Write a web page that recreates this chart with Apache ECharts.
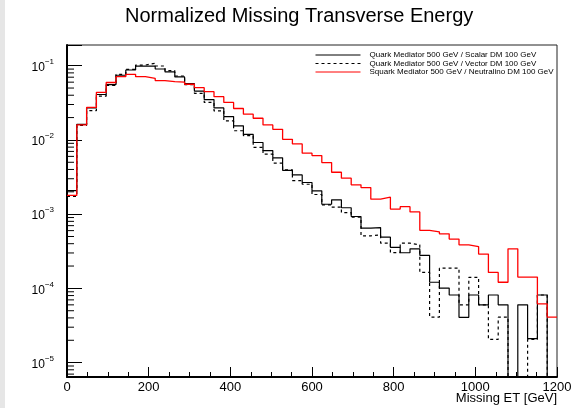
<!DOCTYPE html>
<html>
<head>
<meta charset="utf-8">
<script src="https://cdn.jsdelivr.net/npm/echarts@6/dist/echarts.min.js"></script>
<style>
html,body{margin:0;padding:0;background:#fff;}
#chart{width:571px;height:408px;}
</style>
</head>
<body>
<div id="chart"></div>
<script>
// ---- data ----
const binLowEdges = [0,24,48,72,96,120,144,168,192,216,240,264,288,312,336,360,384,408,432,456,
  480,504,528,552,576,600,624,648,672,696,720,744,768,792,816,840,864,888,912,936,
  960,984,1008,1032,1056,1080,1104,1128,1152,1176];
const binUpperEdge = 1200;

const seriesNames = [
  'Quark Mediator 500 GeV / Scalar DM 100 GeV',
  'Quark Mediator 500 GeV / Vector DM 100 GeV',
  'Squark Mediator 500 GeV / Neutralino DM 100 GeV'
];

const scalarDM = [2.07e-3, 0.0162, 0.0270, 0.0409, 0.0557, 0.0743, 0.0875, 0.0985, 0.0990, 0.0903,
  0.0823, 0.0705, 0.0573, 0.0454, 0.0350, 0.0270, 0.0206, 0.0155, 0.0119, 0.00923,
  0.00718, 0.00573, 0.00389, 0.00338, 0.00267, 0.00206, 0.00136, 0.00156, 0.00122, 0.00093,
  0.00065, 0.00066, 0.00049, 0.000357, 0.000302, 0.000341, 0.000279, 0.000121, 0.000101, 8.15e-5,
  4.08e-5, 8.15e-5, 6.0e-5, 8.15e-5, 6.0e-5, 0, 6.0e-5, 2.1e-5, 8.15e-5, 0];

const vectorDM = [1.74e-3, 0.0157, 0.0248, 0.0388, 0.0542, 0.0762, 0.0890, 0.1020, 0.1077, 0.0990,
  0.0860, 0.0726, 0.0555, 0.0425, 0.0320, 0.0246, 0.0180, 0.0133, 0.0114, 0.00793,
  0.00642, 0.00486, 0.00395, 0.00283, 0.00253, 0.00184, 0.00133, 0.00124, 0.00105, 0.00091,
  0.00051, 0.000526, 0.000407, 0.000304, 0.000407, 0.000386, 0.000164, 4.1e-5, 1.87e-4, 1.87e-4,
  6.0e-5, 1.41e-4, 6.0e-5, 2.05e-5, 4.1e-5, 0, 0, 2.05e-5, 8.15e-5, 0];

const neutralinoDM = [1.79e-3, 0.0159, 0.0274, 0.0438, 0.0594, 0.0711, 0.0766, 0.0711, 0.0677, 0.0630,
  0.0609, 0.0600, 0.0562, 0.0506, 0.0447, 0.0383, 0.0320, 0.0265, 0.0222, 0.0196,
  0.0159, 0.0139, 0.0102, 0.00883, 0.00662, 0.00615, 0.00495, 0.00367, 0.00305, 0.00248,
  0.00228, 0.00159, 0.00169, 0.00117, 0.00126, 0.00107, 0.000605, 0.000578, 0.000543, 0.000461,
  0.000386, 0.000366, 0.00029, 0.000164, 0.000121, 0.000341, 0.000142, 0.000142, 6.2e-5, 4.1e-5];

const yMinorTickValues = [7e-6, 8e-6, 9e-6,
  2e-5, 3e-5, 4e-5, 5e-5, 6e-5, 7e-5, 8e-5, 9e-5,
  2e-4, 3e-4, 4e-4, 5e-4, 6e-4, 7e-4, 8e-4, 9e-4,
  2e-3, 3e-3, 4e-3, 5e-3, 6e-3, 7e-3, 8e-3, 9e-3,
  2e-2, 3e-2, 4e-2, 5e-2, 6e-2, 7e-2, 8e-2, 9e-2];

const titleText = 'Normalized Missing Transverse Energy';
const xAxisTitle = 'Missing ET [GeV]';

// ---- build ----
const FONT = 'Liberation Sans, Arial, Helvetica, sans-serif';
const EMPTY_BIN_FLOOR = 1e-9; // empty bins fall below the axis, as in ROOT

function histPoints(vals) {
  const pts = binLowEdges.map((x, i) => [x, vals[i] > 0 ? vals[i] : EMPTY_BIN_FLOOR]);
  const last = vals[vals.length - 1];
  pts.push([binUpperEdge, last > 0 ? last : EMPTY_BIN_FLOOR]);
  return pts;
}

function histSeries(name, vals, color, width, type) {
  return {
    name: name,
    type: 'line',
    step: 'end',
    data: histPoints(vals),
    symbol: 'none',
    showSymbol: false,
    clip: true,
    silent: true,
    lineStyle: { color: color, width: width, type: type },
    itemStyle: { color: color },
    emphasis: { disabled: true }
  };
}

const chart = echarts.init(document.getElementById('chart'), null, { renderer: 'canvas' });

chart.setOption({
  animation: false,
  backgroundColor: '#ffffff',
  title: {
    text: titleText,
    left: 125,
    top: 6,
    padding: 0,
    textStyle: { fontSize: 20, fontWeight: 'normal', color: '#000', fontFamily: FONT }
  },
  graphic: [
    { type: 'rect', left: 0, top: 0, shape: { width: 5, height: 408 }, style: { fill: '#e6e6e6' }, silent: true },
    { type: 'text', right: 14, top: 392, silent: true,
      style: { text: xAxisTitle, fontSize: 13, fontFamily: FONT, fill: '#000' } }
  ],
  legend: {
    data: seriesNames,
    orient: 'vertical',
    left: 315,
    top: 51,
    padding: 0,
    itemWidth: 45,
    itemHeight: 7,
    itemGap: 0.5,
    selectedMode: false,
    itemStyle: { opacity: 0, borderWidth: 0 },
    lineStyle: { width: 1 },
    textStyle: { fontSize: 8, fontFamily: FONT, color: '#000', lineHeight: 7, padding: [0, 0, 0, 4] }
  },
  grid: {
    left: 67, right: 14, top: 45, bottom: 31,
    outerBoundsMode: 'none',
    show: true, borderColor: '#222', borderWidth: 1, backgroundColor: 'transparent',
    containLabel: false
  },
  xAxis: {
    type: 'value',
    min: 0, max: 1200, interval: 200,
    axisLine: { show: true, onZero: false, lineStyle: { color: '#000', width: 2 } },
    axisTick: { show: true, inside: true, length: 10, lineStyle: { color: '#000', width: 1 } },
    minorTick: { show: true, splitNumber: 4, length: 5, lineStyle: { color: '#000', width: 1 } },
    axisLabel: { fontSize: 13, fontFamily: FONT, color: '#000', margin: 4, formatter: function (v) { return String(v); } },
    splitLine: { show: false },
    minorSplitLine: { show: false }
  },
  yAxis: {
    type: 'log',
    logBase: 10,
    min: 6.4e-6, max: 0.19,
    axisLine: { show: true, onZero: false, lineStyle: { color: '#000', width: 2 } },
    axisTick: { show: true, inside: true, length: 15, lineStyle: { color: '#000', width: 1 } },
    axisLabel: {
      margin: 13,
      color: '#000',
      formatter: function (v) {
        const e = Math.log10(v);
        const r = Math.round(e);
        if (Math.abs(e - r) > 1e-6) return '';
        return '{b|10}{s|' + (r < 0 ? '\u2212' + (-r) : r) + '}';
      },
      rich: {
        b: { fontSize: 12, fontFamily: FONT, color: '#000', lineHeight: 16, verticalAlign: 'bottom' },
        s: { fontSize: 8, fontFamily: FONT, color: '#000', lineHeight: 9, verticalAlign: 'top' }
      }
    },
    splitLine: { show: false }
  },
  series: [
    histSeries(seriesNames[0], scalarDM, '#000000', 1.2, 'solid'),
    histSeries(seriesNames[1], vectorDM, '#000000', 1.2, [3, 3]),
    histSeries(seriesNames[2], neutralinoDM, '#ff0000', 1.3, 'solid'),
    {
      name: 'yMinorTicks',
      type: 'custom',
      silent: true,
      clip: true,
      data: yMinorTickValues.map(v => [0, v]),
      renderItem: function (params, api) {
        const p = api.coord([api.value(0), api.value(1)]);
        return {
          type: 'line',
          shape: { x1: p[0], y1: p[1], x2: p[0] + 7, y2: p[1] },
          style: { stroke: '#000', lineWidth: 1 }
        };
      }
    }
  ]
});
</script>
</body>
</html>
